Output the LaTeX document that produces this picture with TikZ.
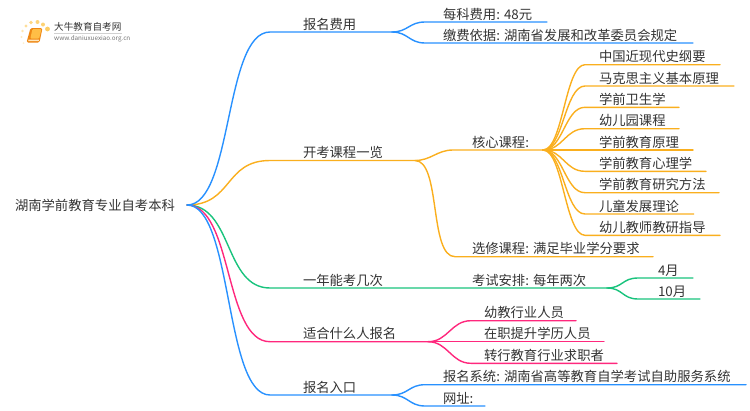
\documentclass[tikz,border=0pt]{standalone}
\usepackage{fontspec}
\setmainfont{Noto Sans CJK SC}
\definecolor{cblue}{RGB}{40,145,255}
\definecolor{corange}{RGB}{250,175,30}
\definecolor{cgreen}{RGB}{25,195,125}
\definecolor{cpink}{RGB}{255,40,125}
\definecolor{ctext}{RGB}{51,51,51}
\definecolor{bookdark}{RGB}{238,135,20}
\definecolor{booklight}{RGB}{255,190,70}
\definecolor{dotgold}{RGB}{253,205,100}
\tikzset{
  x=1pt,y=-1pt,
  lbl/.style={anchor=south west,inner sep=0pt,outer sep=0pt,text height=11pt,text depth=3pt,text=ctext,font=\fontsize{13.33}{14}\selectfont},
  conn/.style={line width=1.4pt,line cap=round},
  bigcurve/.style={out=0,in=180,distance=46pt},
  midcurve/.style={out=0,in=180,distance=16pt},
  fancurve/.style={out=0,in=180,distance=20pt},
}
% name, left, right, text x, line y, text
\newcommand{\topicnode}[6]{%
  \node[lbl] (#1) at (#2,#5) {\makebox[\dimexpr#3pt-#2pt\relax][l]{\hspace*{\dimexpr#4pt-#2pt\relax}#6}};}
\begin{document}
\begin{tikzpicture}
\useasboundingbox (0,0) rectangle (750,410);
% logo
\foreach \px/\py/\r/\o in {47.5/29/2.4/1,43/24.5/2/.9,37.5/22/2/.85,31/22.5/1.8/.8,26/26/1.7/.65,22.5/31/1.4/.5,21.5/37/1.2/.4,23.5/43/1/.3}
  \fill[dotgold,opacity=\o] (\px,\py) circle (\r);
\fill[bookdark,rounded corners=1.5pt] (30.5,28) -- (42.5,28) -- (39.5,42.5) -- (26.5,42.5) -- cycle;
\fill[booklight,rounded corners=1pt] (32.5,29) -- (41.5,29) -- (39.2,38.5) -- (30.3,38.5) -- cycle;
\fill[white!65!booklight] (28.5,39.6) -- (39,39.6) -- (38.7,41.2) -- (28.2,41.2) -- cycle;
\node[inner sep=0pt,anchor=west,text=ctext,font=\fontsize{9.6}{10}\selectfont] (logotitle) at (54,27) {大牛教育自考网};
\node[inner sep=0pt,anchor=west,text=black!55,font=\fontsize{6.3}{7}\selectfont] (logourl) at (54,38.5) {www.daniuxuexiao.org.cn};
\draw[black!18,line width=.5pt] (logotitle.west |- 0,33) -- (logotitle.east |- 0,33);
% root
\node[inner sep=0pt,outer sep=0pt,anchor=west,text=ctext,font=\fontsize{13.33}{14}\selectfont] (root) at (15,205) {\makebox[172pt][l]{湖南学前教育专业自考本科}};
% branches
\topicnode{fee}{270}{392}{303}{32}{报名费用}
\topicnode{feea}{425}{547}{443}{22}{每科费用: 48元}
\topicnode{feeb}{425}{693}{443}{43}{缴费依据: 湖南省发展和改革委员会规定}
\topicnode{course}{270}{415}{303}{160.5}{开考课程一览}
\topicnode{core}{453}{543}{472}{150}{核心课程:}
\topicnode{elect}{455}{653}{472}{256.7}{选修课程: 满足毕业学分要求}
\topicnode{la}{585}{720}{599}{64.7}{中国近现代史纲要}
\topicnode{lb}{585}{734}{599}{86}{马克思主义基本原理}
\topicnode{lc}{585}{679}{599}{107.3}{学前卫生学}
\topicnode{ld}{585}{679}{599}{128.7}{幼儿园课程}
\topicnode{le}{585}{693}{599}{150}{学前教育原理}
\topicnode{lf}{585}{706}{599}{171.3}{学前教育心理学}
\topicnode{lg}{585}{719}{599}{192.7}{学前教育研究方法}
\topicnode{lh}{585}{693.7}{599}{214}{儿童发展理论}
\topicnode{li}{585}{720}{599}{235.3}{幼儿教师教研指导}
\topicnode{times}{270}{415}{303}{288}{一年能考几次}
\topicnode{plan}{415}{607}{472}{288}{考试安排: 每年两次}
\topicnode{apr}{638}{693}{658}{278}{4月}
\topicnode{oct}{638}{700}{658}{299}{10月}
\topicnode{who}{270}{428}{303}{341.7}{适合什么人报名}
\topicnode{wa}{471}{576}{484}{320.7}{幼教行业人员}
\topicnode{wb}{471}{604}{484}{341.7}{在职提升学历人员}
\topicnode{wc}{471}{617}{484}{363.3}{转行教育行业求职者}
\topicnode{entry}{270}{392}{303}{395}{报名入口}
\topicnode{ena}{425}{746}{443}{384.7}{报名系统: 湖南省高等教育自学考试自助服务系统}
\topicnode{enb}{425}{485}{443}{406}{网址:}
% connectors
\begin{scope}[conn,corange]
\draw (root.east) to[bigcurve] (course.south west) -- (course.south east);
\draw (course.south east) to[midcurve] (core.south west) -- (core.south east);
\draw (course.south east) to[out=0,in=180,distance=26pt] (elect.south west) -- (elect.south east);
\foreach \n in {la,lb,lc,ld,le,lf,lg,lh,li}
  \draw (core.south east) to[fancurve] (\n.south west) -- (\n.south east);
\end{scope}
\begin{scope}[conn,cgreen]
\draw (root.east) to[bigcurve] (times.south west) -- (times.south east) -- (plan.south east);
\draw (plan.south east) to[midcurve] (apr.south west) -- (apr.south east);
\draw (plan.south east) to[midcurve] (oct.south west) -- (oct.south east);
\end{scope}
\begin{scope}[conn,cpink]
\draw (root.east) to[bigcurve] (who.south west) -- (who.south east);
\draw (who.south east) to[fancurve] (wa.south west) -- (wa.south east);
\draw (who.south east) -- (wb.south west) -- (wb.south east);
\draw (who.south east) to[fancurve] (wc.south west) -- (wc.south east);
\end{scope}
\begin{scope}[conn,cblue]
\draw (root.east) to[bigcurve] (fee.south west) -- (fee.south east);
\draw (fee.south east) to[midcurve] (feea.south west) -- (feea.south east);
\draw (fee.south east) to[midcurve] (feeb.south west) -- (feeb.south east);
\draw (root.east) to[bigcurve] (entry.south west) -- (entry.south east);
\draw (entry.south east) to[midcurve] (ena.south west) -- (ena.south east);
\draw (entry.south east) to[midcurve] (enb.south west) -- (enb.south east);
\end{scope}
\end{tikzpicture}
\end{document}
